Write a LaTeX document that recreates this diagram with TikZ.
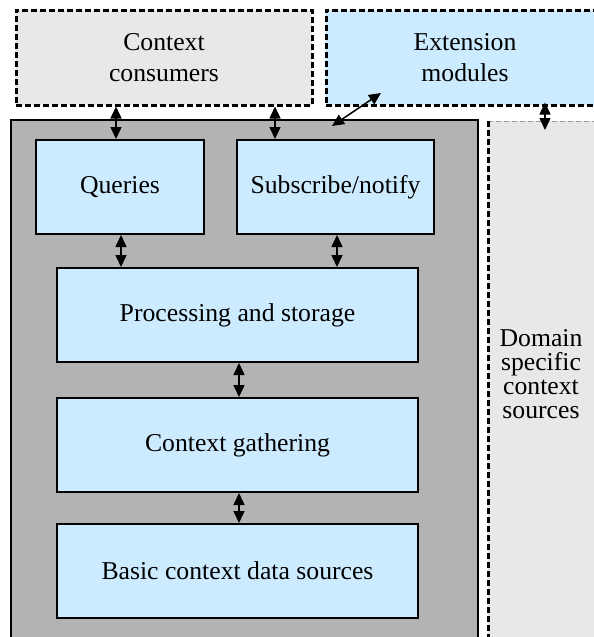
\documentclass[tikz,border=0pt]{standalone}
\usepackage{fontspec}
\setmainfont{Liberation Serif}
\usetikzlibrary{arrows.meta}
\definecolor{boxblue}{HTML}{CCEBFF}
\definecolor{coregray}{HTML}{B3B3B3}
\definecolor{lightgray}{HTML}{E8E8E8}
\tikzset{
  blk/.style={draw=black, line width=2pt, fill=boxblue, inner sep=0pt, minimum height=94pt,
              font=\fontsize{25.7}{24}\selectfont},
  dashbox/.style={draw=black, line width=3pt, dash pattern=on 6pt off 3pt, inner sep=0pt,
              minimum height=95pt, align=center, font=\fontsize{25.7}{31}\selectfont},
  dbl/.style={line width=1.5pt, {Triangle[length=12pt,width=11pt]}-{Triangle[length=12pt,width=11pt]}},
}
\begin{document}
\begin{tikzpicture}[x=1pt,y=-1pt]
\useasboundingbox (0,0) rectangle (594,637);
\clip (0,0) rectangle (594,637);
% core gray area
\node[draw=black, line width=1.5pt, fill=coregray, minimum width=467pt, minimum height=530pt, inner sep=0pt] (core) at (244.5,385) {};
% domain specific area
\fill[lightgray] (488,121) rectangle (620,650);
\draw[black!40, line width=0.8pt, dash pattern=on 5pt off 3pt] (488,121) -- (620,121);
\draw[black, line width=3pt, dash pattern=on 6pt off 3pt] (488,121) -- (488,650);
\node[align=center, font=\fontsize{25.7}{24}\selectfont, inner sep=0pt] (dom) at (541,374) {Domain\\specific\\context\\sources};
\coordinate (domtop) at (545,121);
% top boxes
\node[dashbox, fill=lightgray, minimum width=296pt] (cons) at (164,57.5) {Context\\consumers};
\node[dashbox, fill=boxblue, minimum width=278pt] (ext) at (465,57.5) {Extension\\modules};
% inner blocks
\node[blk, minimum width=168pt] (qry) at (120,187) {Queries};
\node[blk, minimum width=197pt] (sub) at (335.5,187) {Subscribe/notify};
\node[blk, minimum width=361pt] (proc) at (237.5,315) {Processing and storage};
\node[blk, minimum width=361pt] (gath) at (237.5,445) {Context gathering};
\node[blk, minimum width=361pt] (basic) at (237.5,571) {Basic context data sources};
% connectors
\draw[dbl] (cons.south -| 116,0) -- (qry.north -| 116,0);
\draw[dbl] (cons.south -| 275,0) -- (sub.north -| 275,0);
\coordinate (extin) at (381,93);
\coordinate (corein) at (332,126);
\draw[dbl] (extin) -- (corein);
\draw[dbl, shorten <=-4pt, shorten >=-9pt] (ext.south -| domtop) -- (domtop);
\draw[dbl] (qry.south -| 121,0) -- (proc.north -| 121,0);
\draw[dbl] (sub.south -| 337,0) -- (proc.north -| 337,0);
\draw[dbl] (proc.south -| 239,0) -- (gath.north -| 239,0);
\draw[dbl] (gath.south -| 239,0) -- (basic.north -| 239,0);
\end{tikzpicture}
\end{document}
